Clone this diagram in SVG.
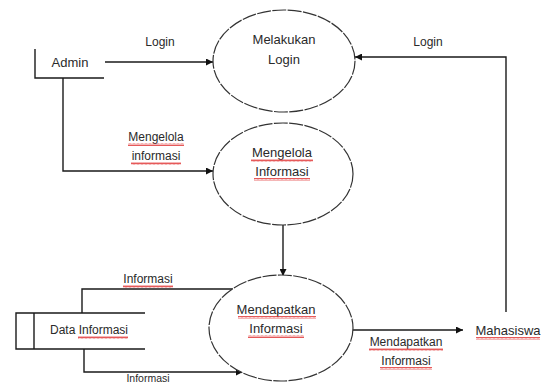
<svg xmlns="http://www.w3.org/2000/svg" width="552" height="382" viewBox="0 0 552 382">
<style>
.ln{fill:none;stroke:#1a1a1a;stroke-width:1.4}
.el{fill:#fff;stroke:#333;stroke-width:1.2;stroke-dasharray:14 1.4}
.t{font-family:"Liberation Sans",Arial,sans-serif;font-size:12px;fill:#2a2a2a;text-anchor:middle}
.n{font-size:13px}
</style>
<defs>
<marker id="ar" viewBox="0 0 10 10" refX="10" refY="5" markerWidth="7" markerHeight="7" markerUnits="userSpaceOnUse" orient="auto">
<path d="M0,0 L10,5 L0,10 z" fill="#111"/>
</marker>
<pattern id="wv" width="4" height="3" patternUnits="userSpaceOnUse">
<path d="M0,2.5 L1,0.5 L2,2.5 L3,0.5 L4,2.5" fill="none" stroke="#e03030" stroke-width="0.8"/>
</pattern>
</defs>
<rect width="552" height="382" fill="#fff"/>
<g id="connectors">
<path class="ln" d="M105,62 H213" marker-end="url(#ar)"/>
<path class="ln" d="M63,78 V171 H213" marker-end="url(#ar)"/>
<path class="ln" d="M506,312 V57 H355" marker-end="url(#ar)"/>
<path class="ln" d="M283,225 V276" marker-end="url(#ar)"/>
<path class="ln" d="M82,313 V289 H233"/>
<path class="ln" d="M84,349 V372 H243" marker-end="url(#ar)"/>
<path class="ln" d="M353,330 H463" marker-end="url(#ar)"/>
<text class="t" x="160" y="46">Login</text>
<text class="t" x="428" y="46">Login</text>
<text class="t" x="156" y="141">Mengelola</text>
<text class="t" x="156" y="160">informasi</text>
<text class="t" x="148" y="283">Informasi</text>
<text class="t" x="148" y="381.5" style="font-size:10.5px">Informasi</text>
<text class="t" x="406" y="346">Mendapatkan</text>
<text class="t" x="406" y="365">Informasi</text>
</g>
<g id="admin">
<path class="ln" d="M35,49 V78 H104"/>
<text class="t n" x="70" y="67">Admin</text>
</g>
<g id="mahasiswa">
<text class="t n" x="508" y="335">Mahasiswa</text>
</g>
<g id="data-informasi">
<path class="ln" d="M145,313 H16 V349 H145 M34,313 V349"/>
<text class="t" x="89" y="334">Data Informasi</text>
</g>
<g id="melakukan-login">
<ellipse class="el" cx="284" cy="61" rx="71" ry="51"/>
<text class="t n" x="284" y="44">Melakukan</text>
<text class="t n" x="284" y="64">Login</text>
</g>
<g id="mengelola-informasi">
<ellipse class="el" cx="283" cy="174" rx="70" ry="51"/>
<text class="t n" x="282" y="157">Mengelola</text>
<text class="t n" x="282" y="176">Informasi</text>
</g>
<g id="mendapatkan-informasi">
<ellipse class="el" cx="281" cy="328" rx="72" ry="53"/>
<text class="t n" x="276" y="314">Mendapatkan</text>
<text class="t n" x="276" y="333">Informasi</text>
</g>
<g id="spellcheck">
<rect x="128" y="143" width="56" height="3" fill="url(#wv)"/>
<rect x="131" y="162" width="50" height="3" fill="url(#wv)"/>
<rect x="251" y="159" width="62" height="3" fill="url(#wv)"/>
<rect x="254" y="178" width="56" height="3" fill="url(#wv)"/>
<rect x="123" y="285" width="50" height="3" fill="url(#wv)"/>
<rect x="78" y="336" width="50" height="3" fill="url(#wv)"/>
<rect x="238" y="316" width="78" height="3" fill="url(#wv)"/>
<rect x="248" y="335" width="56" height="3" fill="url(#wv)"/>
<rect x="369" y="348" width="74" height="3" fill="url(#wv)"/>
<rect x="380" y="367" width="52" height="3" fill="url(#wv)"/>
<rect x="476" y="337" width="64" height="3" fill="url(#wv)"/>
</g>
</svg>
